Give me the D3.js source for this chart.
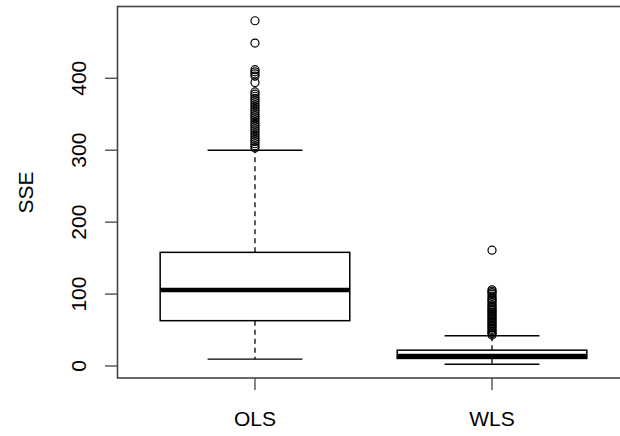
<!DOCTYPE html>
<html><head><meta charset="utf-8">
<script src="https://cdn.jsdelivr.net/npm/d3@7"></script>
<style>body{margin:0;background:#fff}svg{display:block}text{font-family:"Liberation Sans",Arial,sans-serif;fill:#000}</style>
</head><body><svg id="c" width="620" height="436"></svg>
<script>
const categories = ["OLS", "WLS"];
const lowerWhisker = [9.5, 2.4];
const q1 = [63, 10.5];
const medians = [105.5, 14];
const q3 = [158, 22];
const upperWhisker = [300, 42];
const outliersOLS = [480, 449, 412, 409, 406, 403, 394, 381, 378, 375, 372, 369, 366, 363, 360, 357, 354, 351, 348, 345, 342, 339, 336, 333, 330, 327, 324, 321, 318, 315, 312, 309, 306, 303];
const outliersWLS = [161, 106, 104, 102, 100, 97, 94, 92, 90, 88, 85, 83, 81, 79, 77, 75, 73, 71, 69, 67, 65, 63, 61, 59, 57, 55, 53, 51, 49, 47, 45, 43];
const yTicks = [0, 100, 200, 300, 400];
const yLabel = "SSE";

const outliers = [outliersOLS, outliersWLS];
const svg = d3.select("#c");
const all = [...lowerWhisker, ...upperWhisker, ...outliersOLS, ...outliersWLS];
const ymin = d3.min(all), ymax = d3.max(all), yr = ymax - ymin;
const y = d3.scaleLinear().domain([ymin - 0.04 * yr, ymax + 0.04 * yr]).range([378, 7]);
const x = d3.scaleLinear().domain([0.42, 2.58]).range([117.5, 629.5]);
const bw = (x(1.4) - x(0.6)), cw = bw / 2;

// frame
svg.append("rect").attr("x", 117.5).attr("y", 6.5).attr("width", 512).attr("height", 371.5)
  .attr("fill", "none").attr("stroke", "#444").attr("stroke-width", 1.6);

categories.forEach((c, i) => {
  const cx = x(i + 1);
  const g = svg.append("g");
  // whiskers
  g.append("line").attr("x1", cx).attr("x2", cx).attr("y1", y(q3[i])).attr("y2", y(upperWhisker[i]))
    .attr("stroke", "#000").attr("stroke-width", 1.3).attr("stroke-dasharray", "5,4");
  g.append("line").attr("x1", cx).attr("x2", cx).attr("y1", y(q1[i])).attr("y2", y(lowerWhisker[i]))
    .attr("stroke", "#000").attr("stroke-width", 1.3).attr("stroke-dasharray", "5,4");
  [upperWhisker[i], lowerWhisker[i]].forEach(v => {
    g.append("line").attr("x1", cx - cw / 2).attr("x2", cx + cw / 2).attr("y1", y(v)).attr("y2", y(v))
      .attr("stroke", "#000").attr("stroke-width", 1.4);
  });
  // box
  g.append("rect").attr("x", cx - bw / 2).attr("y", y(q3[i])).attr("width", bw).attr("height", y(q1[i]) - y(q3[i]))
    .attr("fill", "#fff").attr("stroke", "#000").attr("stroke-width", 1.5);
  g.append("line").attr("x1", cx - bw / 2).attr("x2", cx + bw / 2).attr("y1", y(medians[i])).attr("y2", y(medians[i]))
    .attr("stroke", "#000").attr("stroke-width", 4.5);
  // outliers
  g.selectAll("circle").data(outliers[i]).join("circle")
    .attr("cx", cx).attr("cy", d => y(d)).attr("r", 4)
    .attr("fill", "none").attr("stroke", "#000").attr("stroke-width", 1.2);
  // x tick + label
  svg.append("line").attr("x1", cx).attr("x2", cx).attr("y1", 378).attr("y2", 390)
    .attr("stroke", "#444").attr("stroke-width", 1.3);
  svg.append("text").attr("x", cx).attr("y", 426).attr("text-anchor", "middle")
    .attr("font-size", 21).text(c);
});

// y axis ticks
yTicks.forEach(t => {
  svg.append("line").attr("x1", 105).attr("x2", 117.5).attr("y1", y(t)).attr("y2", y(t))
    .attr("stroke", "#444").attr("stroke-width", 1.3);
  svg.append("text").attr("transform", `translate(86,${y(t)}) rotate(-90)`)
    .attr("text-anchor", "middle").attr("font-size", 21).text(t);
});
svg.append("text").attr("transform", `translate(33,192.5) rotate(-90)`)
  .attr("text-anchor", "middle").attr("font-size", 21).text(yLabel);
</script></body></html>
